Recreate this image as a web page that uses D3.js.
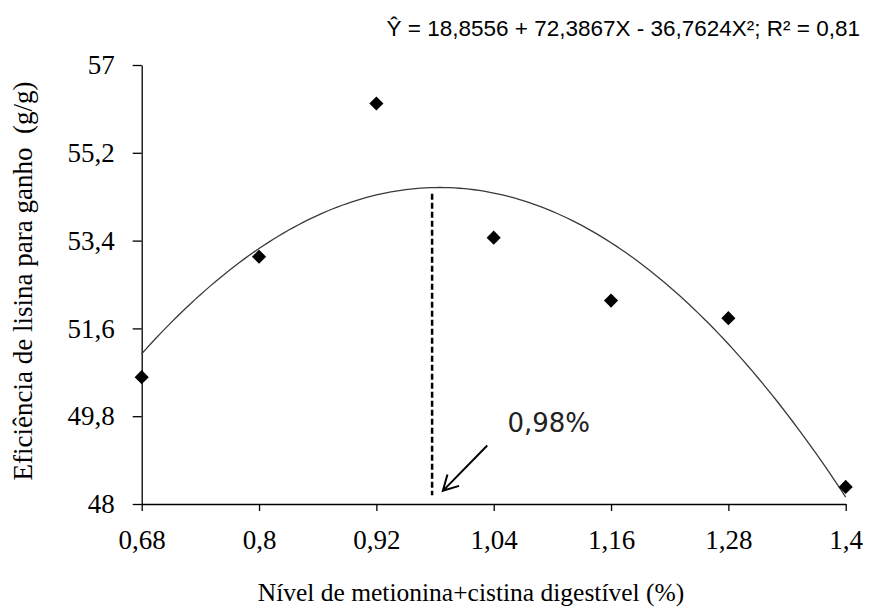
<!DOCTYPE html>
<html>
<head>
<meta charset="utf-8">
<script src="https://cdn.jsdelivr.net/npm/d3@7/dist/d3.min.js"></script>
<style>
body { margin: 0; background: #fff; }
</style>
</head>
<body>
<div id="chart"></div>
<script>
// Met+Cys levels (%) and observed lysine efficiency (g/g)
var xLevels = [0.68, 0.8, 0.92, 1.04, 1.16, 1.28, 1.4];
var efficiency = [50.60, 53.07, 56.21, 53.46, 52.17, 51.81, 48.35];
var yTicks = [48, 49.8, 51.6, 53.4, 55.2, 57];

// fitted quadratic: a + bX + cX^2
var coef = [18.8556, 72.3867, -36.7624];
var equation = "Ŷ = 18,8556 + 72,3867X - 36,7624X²; R² = 0,81";
var optimum = 0.977;
var optimumLabel = "0,98%";

var svg = d3.select("#chart")
    .append("svg")
    .attr("width", 872)
    .attr("height", 608)

var x = d3.scaleLinear().domain([0.68, 1.4]).range([141.7, 845.7]);
var y = d3.scaleLinear().domain([48, 57]).range([504, 65]);

var comma = function(d) { return String(d).replace(".", ","); };
var fit = function(v) { return coef[0] + coef[1] * v + coef[2] * v * v; };

// axes
var yAxis = svg.append("g")
    .attr("transform", "translate(" + x(0.68) + ",0)")
    .call(d3.axisLeft(y).tickValues(yTicks).tickSize(9).tickSizeOuter(0).tickPadding(18).tickFormat(comma))

var xAxis = svg.append("g")
    .attr("transform", "translate(0," + y(48) + ")")
    .call(d3.axisBottom(x).tickValues(xLevels).tickSize(7).tickSizeOuter(0).tickPadding(19).tickFormat(comma))

svg.selectAll(".domain, .tick line")
    .attr("stroke", "#000")
    .attr("stroke-width", 1.3)

svg.selectAll(".tick text")
    .attr("fill", "#000")
    .style("font-family", "'Liberation Serif', 'Times New Roman', serif")
    .style("font-size", "27px")

// fitted curve
var curveX = d3.range(0.68, 1.4001, 0.005);
svg.append("path")
    .datum(curveX)
    .attr("fill", "none")
    .attr("stroke", "#3a3a3a")
    .attr("stroke-width", 1.3)
    .attr("d", d3.line().x(function(d) { return x(d); }).y(function(d) { return y(fit(d)); }))

// optimum marker
svg.append("line")
    .attr("x1", x(optimum))
    .attr("x2", x(optimum))
    .attr("y1", y(54.36))
    .attr("y2", y(48.18))
    .attr("stroke", "#000")
    .attr("stroke-width", 2.5)
    .attr("stroke-dasharray", "6,3")

var tip = [x(0.988), y(48.27)];
var tail = [x(1.0334), y(49.2)];
var ang = Math.atan2(tail[1] - tip[1], tail[0] - tip[0]);
var head = 17, spread = 0.5;

svg.append("path")
    .attr("fill", "none")
    .attr("stroke", "#000")
    .attr("stroke-width", 2)
    .attr("d", "M" + tail + "L" + tip
        + "M" + [tip[0] + head * Math.cos(ang - spread), tip[1] + head * Math.sin(ang - spread)]
        + "L" + tip
        + "L" + [tip[0] + head * Math.cos(ang + spread), tip[1] + head * Math.sin(ang + spread)])

svg.append("text")
    .attr("x", x(1.054))
    .attr("y", y(49.48))
    .text(optimumLabel)
    .attr("fill", "#222")
    .style("font-family", "'DejaVu Sans', Verdana, sans-serif")
    .style("font-size", "26px")

// observed points
svg.append("g")
    .selectAll("path")
    .data(xLevels)
    .join("path")
    .attr("d", d3.symbol(d3.symbolSquare, 100))
    .attr("transform", function(d, i) { return "translate(" + x(d) + "," + y(efficiency[i]) + ") rotate(45)"; })
    .attr("fill", "#000")

// titles
svg.append("text")
    .attr("x", 860)
    .attr("y", 36)
    .attr("text-anchor", "end")
    .text(equation)
    .style("font-family", "'Liberation Sans', Arial, sans-serif")
    .style("font-size", "22.5px")

svg.append("text")
    .attr("transform", "translate(31.5,281) rotate(-90)")
    .attr("text-anchor", "middle")
    .text("Eficiência de lisina para ganho  (g/g)")
    .style("white-space", "pre")
    .style("font-family", "'Liberation Serif', 'Times New Roman', serif")
    .style("font-size", "27px")

svg.append("text")
    .attr("x", 471)
    .attr("y", 601)
    .attr("text-anchor", "middle")
    .text("Nível de metionina+cistina digestível (%)")
    .style("font-family", "'Liberation Serif', 'Times New Roman', serif")
    .style("font-size", "25.5px")
</script>
</body>
</html>
